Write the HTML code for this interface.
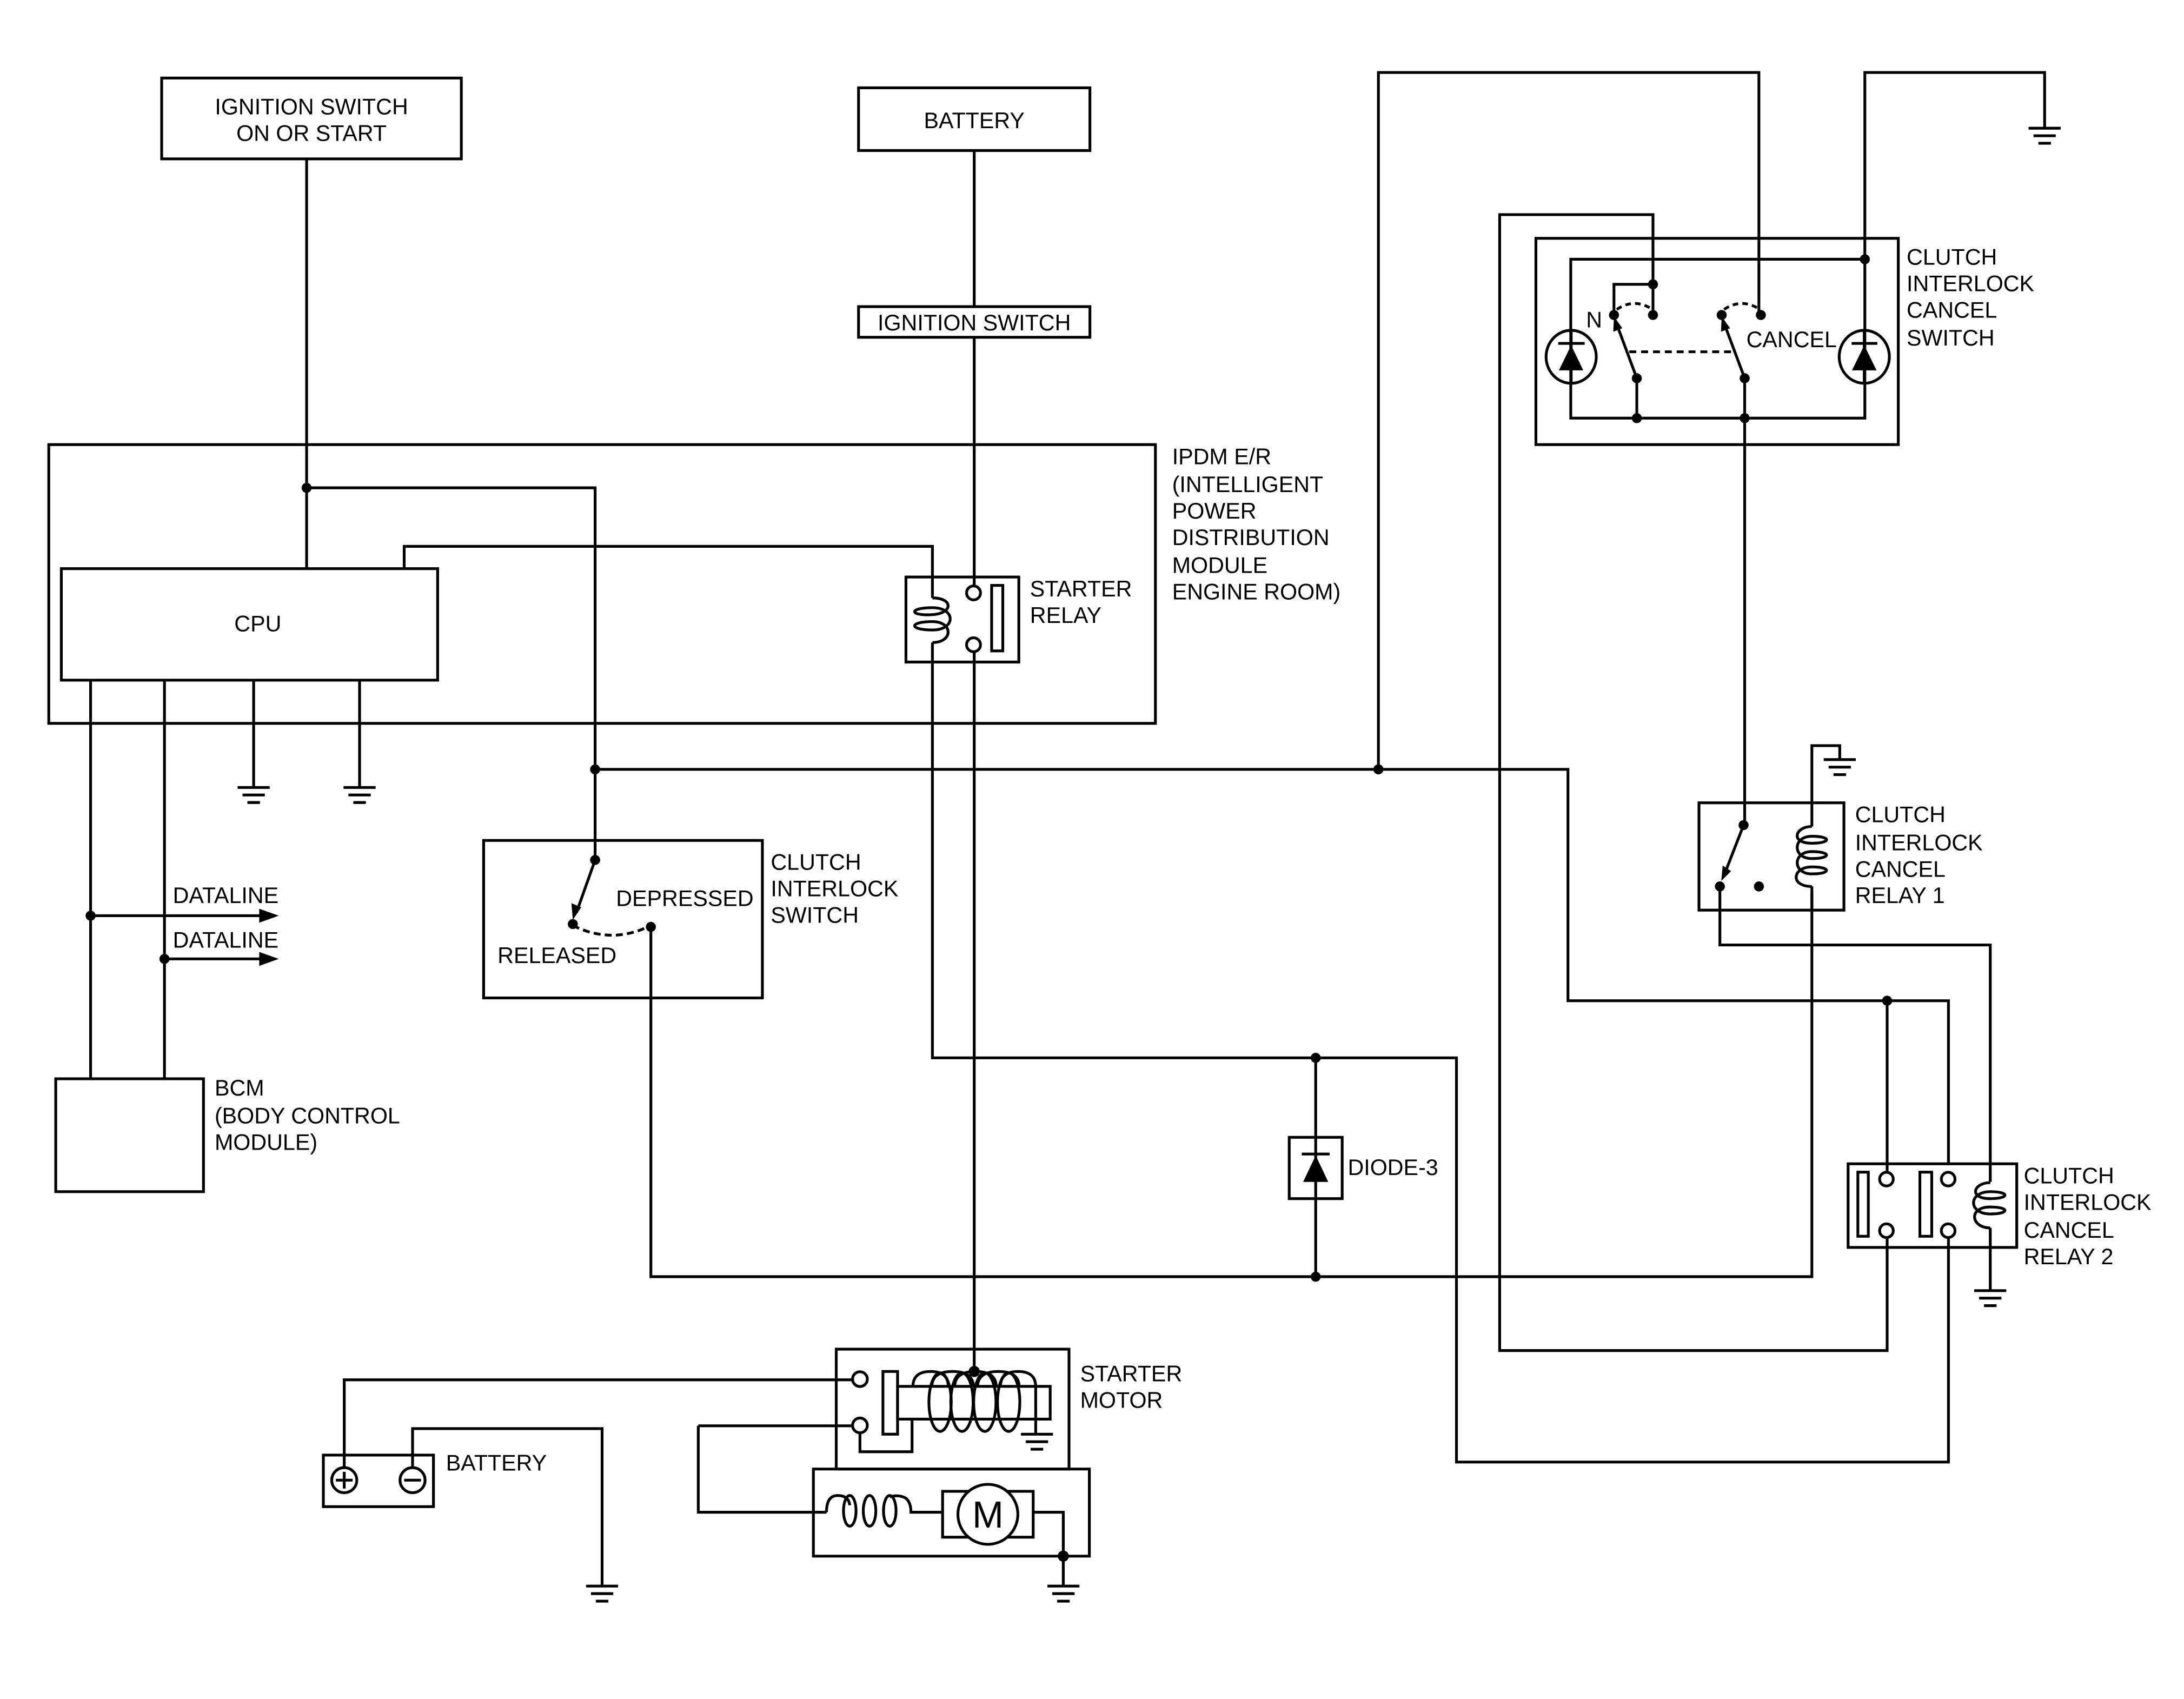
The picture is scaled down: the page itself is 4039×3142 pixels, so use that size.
<!DOCTYPE html>
<html><head><meta charset="utf-8"><style>
html,body{margin:0;padding:0;background:#fff;}
svg{display:block;}
text{font-family:"Liberation Sans",Arial,sans-serif;font-size:16px;fill:#000;}
</style></head><body>
<svg width="4039" height="3142" viewBox="0 0 1567 1219" preserveAspectRatio="none" xmlns="http://www.w3.org/2000/svg">
<defs>
<g id="gnd" stroke="#000" stroke-width="2" fill="none">
<line x1="-11.5" y1="0" x2="11.5" y2="0"/><line x1="-8" y1="5.4" x2="8" y2="5.4"/><line x1="-4.5" y1="10.8" x2="4.5" y2="10.8"/>
</g>
</defs>
<g stroke="#000" stroke-width="2" fill="none" stroke-linejoin="miter">
<rect x="116" y="56" width="215" height="58"/>
<polyline points="220,114 220,408"/>
<polyline points="220,350 427,350 427,617"/>
<rect x="616" y="63" width="166" height="45"/>
<line x1="699" y1="108" x2="699" y2="220"/>
<rect x="616" y="220" width="166" height="22"/>
<line x1="699" y1="242" x2="699" y2="420"/>
<line x1="699" y1="468" x2="699" y2="984"/>
<rect x="35" y="319" width="794" height="200"/>
<rect x="44" y="408" width="270" height="80"/>
<polyline points="290,408 290,392 669,392 669,429"/>
<polyline points="669,461 669,759 1045,759 1045,1049 1398,1049 1398,888"/>
<rect x="650" y="414" width="81" height="61"/>
<path d="M669,429 C684,429 684,440 669,441 C652,442 652,436 669,436 C686,436 686,452 669,452 C652,452 652,446 669,446 C684,446 684,461 669,461"/>
<circle cx="698.5" cy="425.4" r="5"/>
<circle cx="698.5" cy="462.6" r="5"/>
<rect x="711.5" y="420" width="8" height="47"/>
<line x1="182" y1="488" x2="182" y2="565"/>
<line x1="258" y1="488" x2="258" y2="565"/>
<line x1="65" y1="488" x2="65" y2="774"/>
<line x1="118" y1="488" x2="118" y2="774"/>
<line x1="65" y1="657" x2="186" y2="657"/>
<line x1="118" y1="688" x2="186" y2="688"/>
<rect x="40" y="774" width="106" height="81"/>
<polyline points="427,552 1125,552 1125,718 1398,718 1398,836"/>
<polyline points="989,552 989,52 1262,52 1262,226"/>
<polyline points="1338,186 1338,52 1467,52 1467,92"/>
<rect x="347" y="603" width="200" height="113"/>
<line x1="427" y1="617" x2="413.5" y2="655"/>
<path d="M411,664 Q439,678 467,664" stroke-dasharray="5,3"/>
<polyline points="467,665 467,916 1300,916 1300,640"/>
<line x1="944" y1="759" x2="944" y2="916"/>
<rect x="925" y="816" width="38" height="44"/>
<line x1="934" y1="828" x2="954" y2="828"/>
<rect x="1102" y="171" width="260" height="148"/>
<rect x="1127" y="186" width="211" height="114"/>
<polyline points="1186,226 1186,154 1076,154 1076,969 1354,969 1354,888"/>
<polyline points="1186,204 1158,204 1158,226"/>
<path d="M1160,222 Q1172,214 1184,221" stroke-dasharray="4,3"/>
<path d="M1237,222 Q1249,214 1261,221" stroke-dasharray="4,3"/>
<line x1="1174.4" y1="271.4" x2="1160.5" y2="234"/>
<line x1="1251.8" y1="271.4" x2="1237.8" y2="234"/>
<line x1="1169" y1="252.4" x2="1243.4" y2="252.4" stroke-dasharray="5,3.5"/>
<line x1="1174.4" y1="271.4" x2="1174.4" y2="300"/>
<line x1="1251.8" y1="271.4" x2="1251.8" y2="591"/>
<ellipse cx="1127.3" cy="256" rx="18" ry="19"/>
<ellipse cx="1337.6" cy="256" rx="18" ry="19"/>
<line x1="1118" y1="246.4" x2="1137" y2="246.4"/>
<line x1="1328.5" y1="246.4" x2="1347" y2="246.4"/>
<rect x="1219" y="576" width="104" height="77"/>
<line x1="1251" y1="592" x2="1237" y2="628"/>
<polyline points="1300,576 1300,535 1320,535 1320,545"/>
<path d="M1300,593 C1288,593 1284,605 1300,605 C1314,605 1314,600 1300,600 C1286,600 1286,616 1300,616 C1314,616 1314,611 1300,611 C1286,611 1286,627 1300,627 C1314,627 1314,622 1300,622 C1286,622 1284,636 1300,636"/>
<line x1="1300" y1="576" x2="1300" y2="593"/>
<line x1="1300" y1="636" x2="1300" y2="653"/>
<polyline points="1234,636 1234,678 1428,678 1428,848"/>
<rect x="1326" y="835" width="121" height="60"/>
<rect x="1333" y="841" width="7.5" height="46"/>
<rect x="1377.5" y="841" width="8.5" height="46"/>
<line x1="1354" y1="718" x2="1354" y2="841"/>
<circle cx="1353.5" cy="846" r="4.9"/>
<circle cx="1353.5" cy="883" r="4.9"/>
<circle cx="1397.8" cy="846" r="4.9"/>
<circle cx="1397.8" cy="883" r="4.9"/>
<path d="M1428,848.5 C1416,848.5 1412,860 1428,860 C1442,860 1442,855 1428,855 C1412,855 1412,871 1428,871 C1442,871 1442,866 1428,866 C1412,866 1414,881 1428,881"/>
<line x1="1428" y1="881" x2="1428" y2="926"/>
<rect x="232" y="1044" width="79" height="37"/>
<circle cx="247" cy="1062" r="9"/><line x1="241" y1="1062" x2="253" y2="1062"/><line x1="247" y1="1056" x2="247" y2="1068"/>
<circle cx="296" cy="1062" r="9"/><line x1="290" y1="1062" x2="302" y2="1062"/>
<polyline points="247,1053 247,990 612,990"/>
<polyline points="296,1053 296,1025 432,1025 432,1138"/>
<rect x="600" y="968" width="167" height="86"/>
<rect x="583.6" y="1054" width="198" height="62.5"/>
<line x1="501" y1="1023" x2="612" y2="1023"/>
<polyline points="501,1023 501,1085 593,1085"/>
<circle cx="617" cy="989.5" r="5.3"/>
<circle cx="617" cy="1022.7" r="5.3"/>
<rect x="633.5" y="984" width="10.5" height="45"/>
<rect x="644" y="994.7" width="109.5" height="23.5"/>
<polyline points="617,1028 617,1041.6 654.4,1041.6 654.4,1018"/>
<path d="M655,995 Q655,984 667.7,984 Q680.4,984 680.4,995"/>
<path d="M668.6,995 Q668.6,984 683.5,984 Q698.4,984 698.4,995"/>
<path d="M685,995 Q685,984 700,984 Q714.8,984 714.8,995"/>
<path d="M701.4,995 Q701.4,984 716.3,984 Q731.2,984 731.2,995"/>
<path d="M717.8,995 Q717.8,984 730.5,984 Q743.1,984 743.1,995 L743.1,1029"/>
<ellipse cx="674.5" cy="1006" rx="8" ry="21"/>
<ellipse cx="690.2" cy="1006" rx="8" ry="21"/>
<ellipse cx="706.6" cy="1006" rx="8" ry="21"/>
<ellipse cx="723.7" cy="1006" rx="8" ry="21"/>
<path d="M593,1085 Q593,1073 601,1073 Q609,1073 609.7,1080"/>
<ellipse cx="609.7" cy="1084" rx="4.5" ry="11"/>
<ellipse cx="623.9" cy="1084" rx="4.5" ry="11"/>
<ellipse cx="638.4" cy="1084" rx="4.5" ry="11"/>
<path d="M638.4,1074 Q645,1072 650,1075 Q653.6,1078 653.6,1085 L676.3,1085"/>
<rect x="676.3" y="1070" width="65" height="32.9"/>
<circle cx="708.8" cy="1086.5" r="21.5" fill="#fff"/>
<polyline points="741.3,1085 762.9,1085 762.9,1138"/>
</g>
<use href="#gnd" x="182" y="565"/><use href="#gnd" x="258" y="565"/>
<use href="#gnd" x="1467" y="92"/><use href="#gnd" x="1320" y="545"/>
<use href="#gnd" x="1428" y="926"/><use href="#gnd" x="744" y="1029"/>
<use href="#gnd" x="763" y="1138"/><use href="#gnd" x="432" y="1138"/>
<g fill="#000">
<circle cx="220" cy="350" r="3.6"/><circle cx="427" cy="552" r="3.6"/><circle cx="989" cy="552" r="3.6"/>
<circle cx="65" cy="657" r="3.6"/><circle cx="118" cy="688" r="3.6"/>
<circle cx="427" cy="617" r="3.6"/><circle cx="411" cy="663" r="3.6"/><circle cx="467" cy="665" r="3.6"/>
<circle cx="944" cy="759" r="3.6"/><circle cx="944" cy="916" r="3.6"/>
<circle cx="1354" cy="718" r="3.6"/>
<circle cx="1186" cy="204" r="3.6"/><circle cx="1186" cy="226" r="3.6"/><circle cx="1158" cy="226" r="3.6"/>
<circle cx="1235.3" cy="226" r="3.6"/><circle cx="1263.4" cy="226" r="3.6"/>
<circle cx="1338" cy="186" r="3.6"/>
<circle cx="1174.4" cy="271.4" r="3.6"/><circle cx="1251.8" cy="271.4" r="3.6"/>
<circle cx="1174.4" cy="300" r="3.6"/><circle cx="1251.8" cy="300" r="3.6"/>
<circle cx="1251" cy="592" r="3.6"/><circle cx="1234" cy="636" r="3.6"/><circle cx="1262" cy="636" r="3.6"/>
<circle cx="699" cy="984" r="4"/><circle cx="762.9" cy="1116.5" r="4"/>
<polygon points="200,657 186,652 186,662"/><polygon points="200,688 186,683 186,693"/>
<polygon points="411,660 410,648 417,651"/>
<polygon points="1158,227 1157.5,238 1164,235.5"/>
<polygon points="1235.3,227 1234.8,238 1241.3,235.5"/>
<polygon points="1235,632 1236,621 1242,625"/>
<polygon points="944,829 935,848 953,848"/>
<polygon points="1127.3,247.7 1118.5,265.7 1136,265.7"/>
<polygon points="1337.6,247.7 1328.8,265.7 1346.4,265.7"/>
</g>
<g stroke="#000" stroke-width="2">
<line x1="1127.3" y1="237" x2="1127.3" y2="275"/>
<line x1="1337.6" y1="237" x2="1337.6" y2="275"/>
</g>
<text x="223.5" y="82" text-anchor="middle">IGNITION SWITCH</text>
<text x="223.5" y="101" text-anchor="middle">ON OR START</text>
<text x="699" y="92" text-anchor="middle">BATTERY</text>
<text x="699" y="237" text-anchor="middle">IGNITION SWITCH</text>
<text x="185" y="453" text-anchor="middle">CPU</text>
<text x="841" y="333">IPDM E/R</text>
<text x="841" y="353">(INTELLIGENT</text>
<text x="841" y="372">POWER</text>
<text x="841" y="391">DISTRIBUTION</text>
<text x="841" y="411">MODULE</text>
<text x="841" y="430">ENGINE ROOM)</text>
<text x="739" y="428">STARTER</text>
<text x="739" y="447">RELAY</text>
<text x="124" y="648">DATALINE</text>
<text x="124" y="680">DATALINE</text>
<text x="154" y="786">BCM</text>
<text x="154" y="806">(BODY CONTROL</text>
<text x="154" y="825">MODULE)</text>
<text x="442" y="650">DEPRESSED</text>
<text x="357" y="691">RELEASED</text>
<text x="553" y="624">CLUTCH</text>
<text x="553" y="643">INTERLOCK</text>
<text x="553" y="662">SWITCH</text>
<text x="967" y="843">DIODE-3</text>
<text x="1138" y="235">N</text>
<text x="1253" y="249">CANCEL</text>
<text x="1368" y="190">CLUTCH</text>
<text x="1368" y="209">INTERLOCK</text>
<text x="1368" y="228">CANCEL</text>
<text x="1368" y="248">SWITCH</text>
<text x="1331" y="590">CLUTCH</text>
<text x="1331" y="610">INTERLOCK</text>
<text x="1331" y="629">CANCEL</text>
<text x="1331" y="648">RELAY 1</text>
<text x="1452" y="849">CLUTCH</text>
<text x="1452" y="868">INTERLOCK</text>
<text x="1452" y="888">CANCEL</text>
<text x="1452" y="907">RELAY 2</text>
<text x="775" y="991">STARTER</text>
<text x="775" y="1010">MOTOR</text>
<text x="320" y="1055">BATTERY</text>
<text x="708.8" y="1096" text-anchor="middle" style="font-size:27px">M</text>
</svg>
</body></html>
